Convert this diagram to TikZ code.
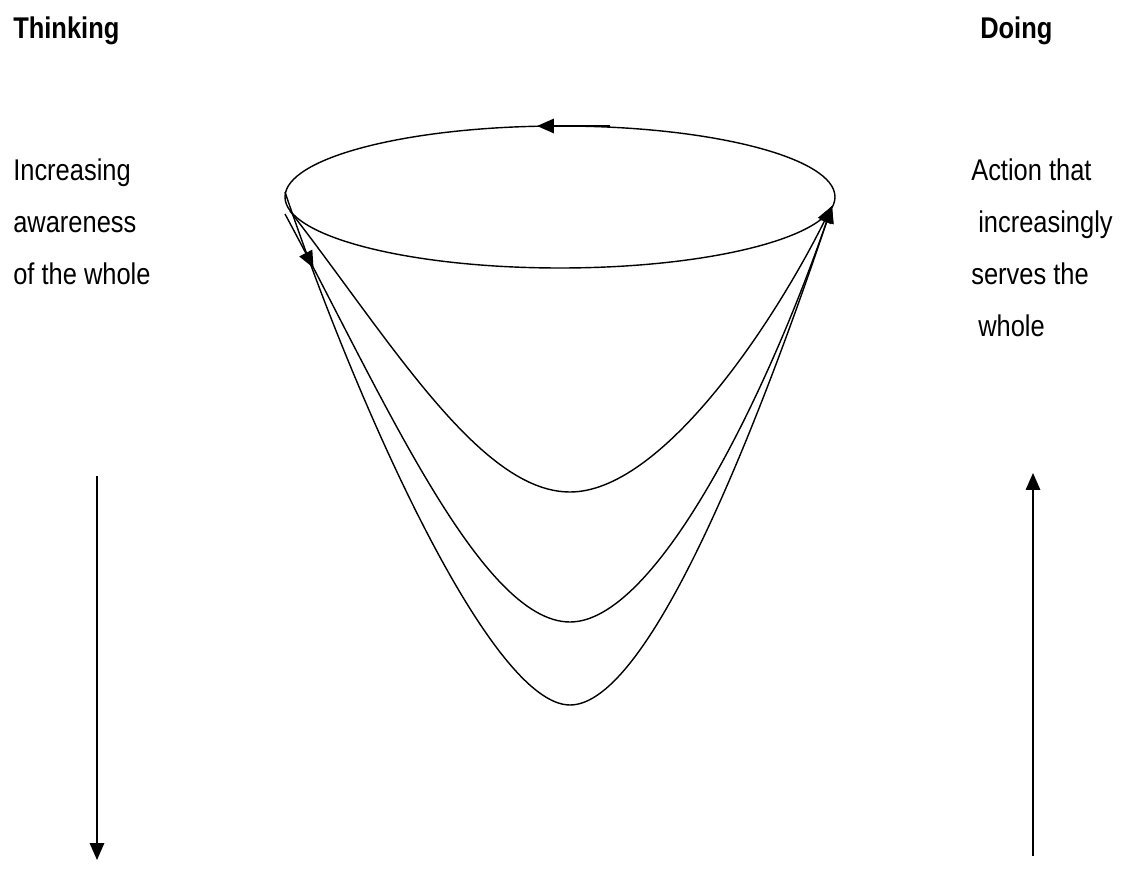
\documentclass[tikz,border=0pt]{standalone}
\usepackage{fontspec}
\setmainfont{Liberation Sans}[FakeStretch=0.85]
\usetikzlibrary{arrows.meta,decorations.markings}

\begin{document}
\begin{tikzpicture}[
    x=0.025cm,
    y=-0.025cm,
    >={Triangle[length=4.2mm,width=3.6mm]},
    txt/.style={
        anchor=base west,
        inner sep=0pt,
        font=\fontsize{21.3}{37}\selectfont
    },
    head/.style={
        font=\fontsize{21.3}{37}\selectfont\bfseries
    },
    swing/.style={
        line width=1pt
    },
    arr/.style={
        ->,
        line width=1pt
    },
    midarr/.style={
        postaction={decorate},
        decoration={markings,
            mark=at position 0.06 with {\arrow{>}}}
    }
]
    \useasboundingbox (0,0) rectangle (1121,879);

    \node[txt, head] (thinking) at (13,39) {Thinking};
    \node[txt, head] (doing) at (980,39) {Doing};

    \node[txt] (aware1) at (13,181) {Increasing};
    \node[txt] (aware2) at (13,233) {awareness};
    \node[txt] (aware3) at (13,285) {of the whole};

    \node[txt] (action1) at (971,181) {Action that};
    \node[txt] (action2) at (978,233) {increasingly};
    \node[txt] (action3) at (971,285) {serves the};
    \node[txt] (action4) at (978,337) {whole};

    % Okraj nahoře
    \draw[swing] (560,197) ellipse [x radius=275, y radius=71];
    \coordinate (rimright) at (610,126);
    \coordinate (rimleft) at (537,126);
    \draw[arr] (rimright) -- (rimleft);

    % Tři smyčky dolů a zpět
    \coordinate (innerstart) at (290,211);
    \coordinate (midstart) at (285,214);
    \coordinate (outerstart) at (285,192);
    \coordinate (innerbottom) at (570,492);
    \coordinate (midbottom) at (570,622);
    \coordinate (outerbottom) at (570,705);
    \coordinate (rimend) at (832,206);

    \draw[arr]
        (innerstart) .. controls (390,340) and (480,492) ..
        (innerbottom) .. controls (660,492) and (770,330) ..
        (rimend);

    \draw[arr, midarr]
        (midstart) .. controls (380,390) and (480,622) ..
        (midbottom) .. controls (655,622) and (765,400) ..
        (rimend);

    \draw[arr]
        (outerstart) .. controls (355,400) and (490,705) ..
        (outerbottom) .. controls (650,705) and (760,420) ..
        (rimend);

    % Svislé šipky
    \coordinate (thinktop) at (97,476);
    \coordinate (thinkbottom) at (97,860);
    \coordinate (dobottom) at (1033,856);
    \coordinate (dotop) at (1033,473);

    \draw[arr] (thinktop) -- (thinkbottom);
    \draw[arr] (dobottom) -- (dotop);
\end{tikzpicture}
\end{document}
